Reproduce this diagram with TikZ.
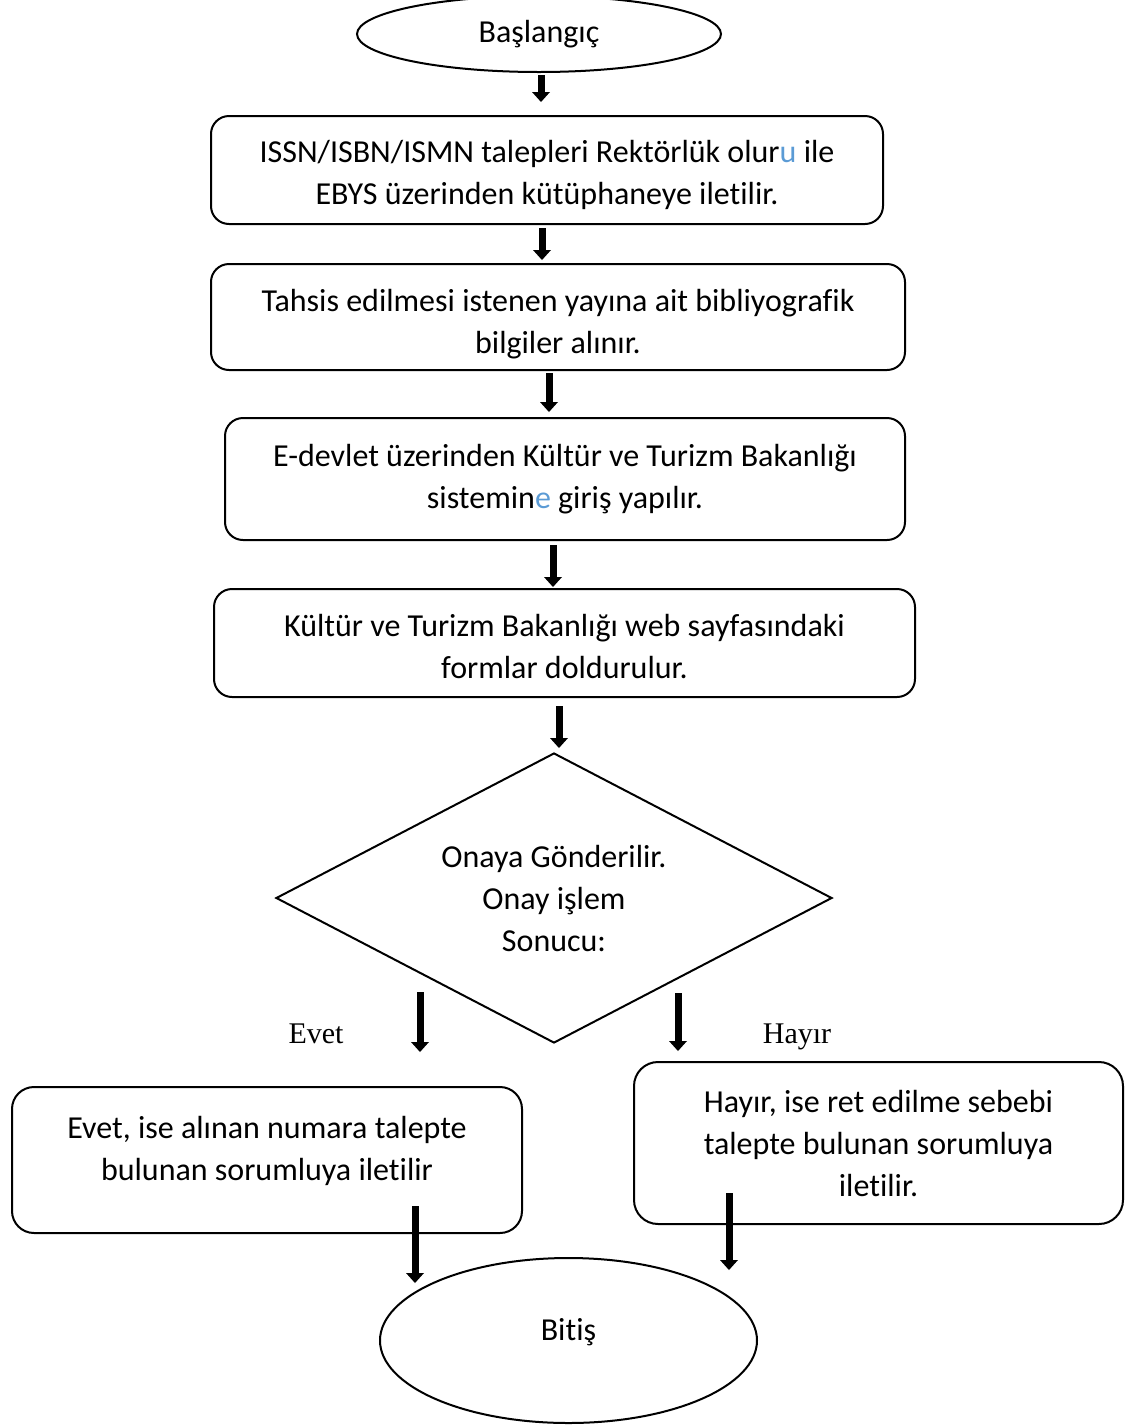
\documentclass[tikz,border=0pt]{standalone}
\usepackage{fontspec}
\setmainfont[Ligatures={NoCommon,NoContextual}]{Carlito}
\newfontfamily\answerfont{Liberation Serif}
\usepackage{tikz}
\usetikzlibrary{arrows.meta,positioning,shapes.geometric}
\definecolor{linkblue}{HTML}{5B9BD5}

\begin{document}
\begin{tikzpicture}[
  x=0.5pt, y=-0.5pt,
  font=\fontsize{16}{21}\selectfont,
  box/.style={draw,line width=1pt,rounded corners=9pt,align=center,inner sep=0pt,text depth=0pt},
  term/.style={ellipse,draw,line width=1pt,inner sep=0pt},
  decision/.style={diamond,draw,line width=1pt,aspect=1.9,inner sep=0pt,align=center,text depth=0pt},
  arr/.style={-{Triangle[width=9pt,length=5pt,line width=0pt]},line width=3.5pt},
  answer/.style={font=\answerfont\fontsize{15}{18}\selectfont,anchor=base}
]
\useasboundingbox (0,0) rectangle (1141,1425);

% process steps
\node[term,minimum width=182pt,minimum height=38pt] (start) at (539,34) {Başlangıç};
\node[box,text height=34pt,minimum width=336pt,minimum height=54pt] (request) at (547,170)
  {ISSN/ISBN/ISMN talepleri Rektörlük olur\textcolor{linkblue}{u} ile\\EBYS üzerinden kütüphaneye iletilir.};
\node[box,text height=36pt,minimum width=347pt,minimum height=53pt] (biblio) at (558,317)
  {Tahsis edilmesi istenen yayına ait bibliyografik\\bilgiler alınır.};
\node[box,text height=29pt,minimum width=340pt,minimum height=61pt] (edevlet) at (565,479)
  {E-devlet üzerinden Kültür ve Turizm Bakanlığı\\sistemin\textcolor{linkblue}{e} giriş yapılır.};
\node[box,text height=35pt,minimum width=350.5pt,minimum height=54pt] (forms) at (564.5,643)
  {Kültür ve Turizm Bakanlığı web sayfasındaki\\formlar doldurulur.};
\node[decision,text height=53.5pt,minimum width=278pt,minimum height=145pt] (approval) at (554,898)
  {Onaya Gönderilir.\\Onay işlem\\Sonucu:};

% outcomes
\node[box,rounded corners=11pt,text height=20pt,minimum width=255pt,minimum height=73pt] (yes) at (267,1160)
  {Evet, ise alınan numara talepte\\bulunan sorumluya iletilir};
\node[box,rounded corners=12pt,text height=53pt,minimum width=244.5pt,minimum height=81pt] (no) at (878.5,1143)
  {Hayır, ise ret edilme sebebi\\talepte bulunan sorumluya\\iletilir.};
\node[term,text height=11pt,text depth=11pt,minimum width=188.5pt,minimum height=82.5pt] (stop) at (568.5,1340.5) {Bitiş};

\node[answer] (yeslabel) at (316,1043) {Evet};
\node[answer] (nolabel) at (797,1043) {Hayır};

% arrow ends
\coordinate (s1) at (541,75);   \coordinate (t1) at (541,102);
\coordinate (s2) at (542,228);  \coordinate (t2) at (542,260);
\coordinate (s3) at (549,373);  \coordinate (t3) at (549,412);
\coordinate (s4) at (553,545);  \coordinate (t4) at (553,587);
\coordinate (s5) at (559,706);  \coordinate (t5) at (559,748);
\coordinate (s6) at (420,992);  \coordinate (t6) at (420,1052);
\coordinate (s7) at (678,993);  \coordinate (t7) at (678,1051);
\coordinate (s8) at (415,1206); \coordinate (t8) at (415,1283);
\coordinate (s9) at (729,1193); \coordinate (t9) at (729,1270);

\draw[arr] (s1) -- (t1);
\draw[arr] (s2) -- (t2);
\draw[arr] (s3) -- (t3);
\draw[arr] (s4) -- (t4);
\draw[arr] (s5) -- (t5);
\draw[arr] (s6) -- (t6);
\draw[arr] (s7) -- (t7);
\draw[arr] (s8) -- (t8);
\draw[arr] (s9) -- (t9);
\end{tikzpicture}
\end{document}
